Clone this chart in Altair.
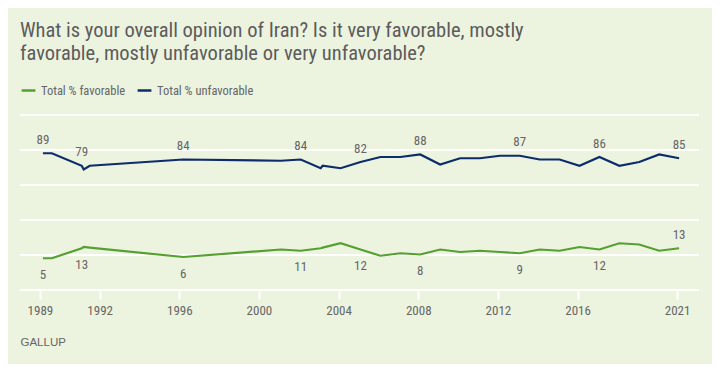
import altair as alt
import pandas as pd

# ---- data ----
years = [1989.15, 1989.6, 1991.1, 1991.2, 1991.5, 1996.2, 2001.1, 2002.1, 2003.1, 2003.2,
         2004.1, 2005.1, 2006.1, 2007.1, 2008.1, 2009.1, 2010.1, 2011.1, 2012.1, 2013.1,
         2014.1, 2015.1, 2016.1, 2017.1, 2018.1, 2019.1, 2020.1, 2021.1]
favorable = [5, 5, 13, 14, 13.5, 6, 12, 11, 13, 13.5,
             17, 12, 7, 9, 8, 12, 10, 11, 10, 9,
             12, 11, 14, 12, 17, 16, 11, 13]
unfavorable = [89, 89, 79, 76, 79, 84, 83, 84, 77, 79,
               77, 82, 86, 86, 88, 80, 85, 85, 87, 87,
               84, 84, 79, 86, 79, 82, 88, 85]

series_names = ["Total % favorable", "Total % unfavorable"]
series_colors = ["#55A030", "#0C2C6C"]

unfav_label_years = [1989.15, 1991.1, 1996.2, 2002.1, 2005.1, 2008.1, 2013.1, 2017.1, 2021.1]
unfav_label_vals = [89, 79, 84, 84, 82, 88, 87, 86, 85]
fav_below_years = [1989.15, 1991.1, 1996.2, 2002.1, 2005.1, 2008.1, 2013.1, 2017.1]
fav_below_vals = [5, 13, 6, 11, 12, 8, 9, 12]
fav_above_years = [2021.1]
fav_above_vals = [13]

x_ticks = [1989, 1992, 1996, 2000, 2004, 2008, 2012, 2016, 2021]
y_grid = [-20.4, 7.6, 35.6, 63.6, 91.6, 119.6]

title_lines = ["What is your overall opinion of Iran? Is it very favorable, mostly",
               "favorable, mostly unfavorable or very unfavorable?"]

# ---- tables ----
df = pd.concat([
    pd.DataFrame({"year": years, "value": favorable, "series": series_names[0]}),
    pd.DataFrame({"year": years, "value": unfavorable, "series": series_names[1]}),
])
lab_unfav = pd.DataFrame({"year": unfav_label_years, "value": unfav_label_vals})
lab_fav_b = pd.DataFrame({"year": fav_below_years, "value": fav_below_vals})
lab_fav_a = pd.DataFrame({"year": fav_above_years, "value": fav_above_vals})
grid_df = pd.DataFrame({"value": y_grid})

NARROW = "Liberation Sans Narrow, Roboto Condensed, Arial Narrow, sans-serif"
GRAY = "#666666"

xscale = alt.Scale(domain=[1988.0, 2022.1], nice=False, zero=False)
yscale = alt.Scale(domain=[-20.4, 119.6], nice=False, zero=False)

x_enc = alt.X("year:Q", scale=xscale,
              axis=alt.Axis(values=x_ticks, format="d", grid=False, domain=False,
                            tickColor="white", tickWidth=2, tickSize=9,
                            labelColor=GRAY, labelFont=NARROW, labelFontSize=13,
                            labelPadding=5, labelFlush=False, labelOverlap=False,
                            title="GALLUP", titleAnchor="start", titleAlign="left",
                            titleX=0, titleY=55.5, titleBaseline="alphabetic",
                            titleFont="Liberation Sans", titleFontSize=11.5,
                            titleFontWeight="normal", titleColor=GRAY))

grid = alt.Chart(grid_df).mark_rule(color="white", strokeWidth=2).encode(
    y=alt.Y("value:Q", scale=yscale, axis=None),
)

lines = alt.Chart(df).mark_line(strokeWidth=2.2).encode(
    x=x_enc,
    y=alt.Y("value:Q", scale=yscale, axis=None),
    color=alt.Color("series:N",
                    scale=alt.Scale(domain=series_names, range=series_colors),
                    legend=alt.Legend(title=None, orient="none", legendX=0, legendY=-33,
                                      direction="horizontal", symbolType="stroke",
                                      symbolStrokeWidth=2.5, symbolSize=190,
                                      labelFont=NARROW, labelFontSize=12.5,
                                      labelColor=GRAY, labelOffset=4,
                                      columnPadding=6)),
    detail="series:N",
)

def labels(data, dy):
    return alt.Chart(data).mark_text(dy=dy, fontSize=13, font=NARROW, color=GRAY,
                                     baseline="middle", align="center").encode(
        x=alt.X("year:Q", scale=xscale),
        y=alt.Y("value:Q", scale=yscale, axis=None),
        text=alt.Text("value:Q", format="d"),
    )

chart = alt.layer(
    grid,
    lines,
    labels(lab_unfav, -13.5),
    labels(lab_fav_b, 16.5),
    labels(lab_fav_a, -13.5),
).properties(
    width=679,
    height=175,
    autosize=alt.AutoSizeParams(type="none"),
    padding={"left": 12, "top": 107, "right": 13, "bottom": 74},
    background="#ECF3DF",
    title=alt.TitleParams(text=title_lines, anchor="start", frame="group",
                          font=NARROW, fontSize=20.5, fontWeight="normal",
                          color="#5C5C5C", lineHeight=22.5, offset=18),
).configure_view(stroke=None)

chart.save("out.html", embed_options={"renderer": "svg", "actions": False})
